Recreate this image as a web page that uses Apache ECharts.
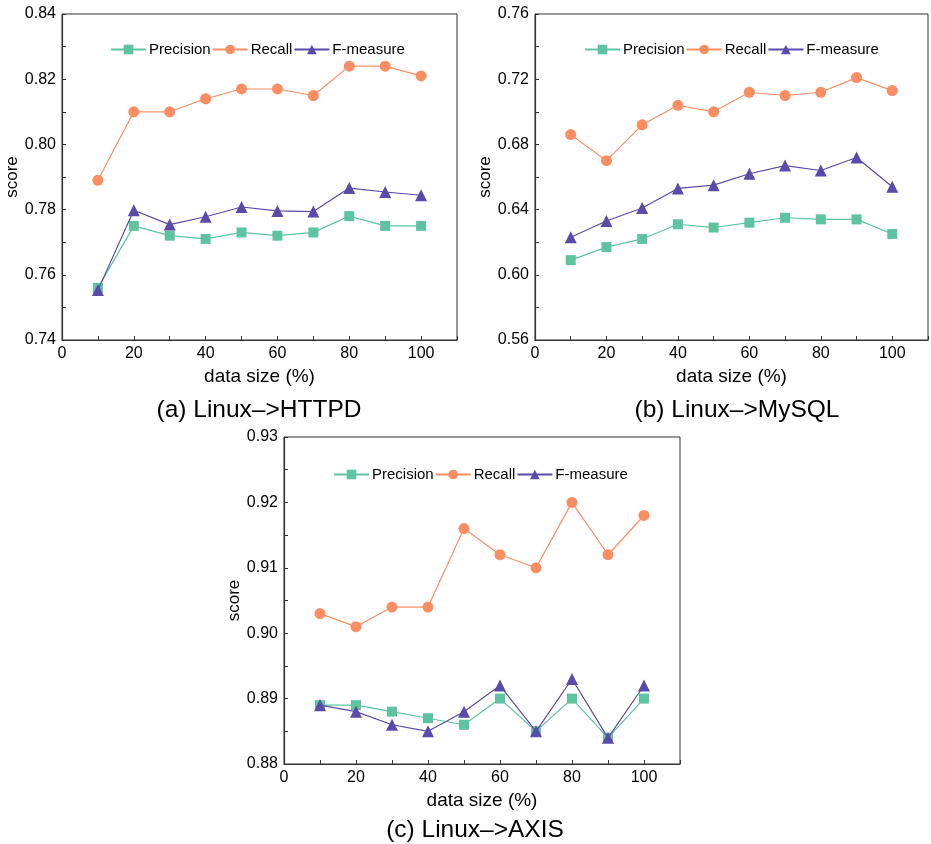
<!DOCTYPE html>
<html lang="en">
<head>
    <meta charset="utf-8">
    <title>score vs data size</title>
    <script src="https://cdn.jsdelivr.net/npm/echarts@6/dist/echarts.min.js"></script>
    <style type="text/css">
        html, body { margin: 0; padding: 0; background: #fff; }
        #container { width: 931px; height: 844px; }
    </style>
</head>
<body>
<div id="container"></div>
<script>
    var sizes = [10, 20, 30, 40, 50, 60, 70, 80, 90, 100];
    var seriesNames = ['Precision', 'Recall', 'F-measure'];
    var panelTitles = ['(a) Linux\u2013>HTTPD', '(b) Linux\u2013>MySQL', '(c) Linux\u2013>AXIS'];

    // (a) Linux->HTTPD
    var httpdPrecision = [0.756, 0.775, 0.772, 0.771, 0.773, 0.772, 0.773, 0.778, 0.775, 0.775];
    var httpdRecall    = [0.789, 0.810, 0.810, 0.814, 0.817, 0.817, 0.815, 0.824, 0.824, 0.821];
    var httpdF         = [0.7553, 0.7798, 0.7754, 0.7778, 0.7808, 0.7796, 0.7794, 0.7866, 0.7854, 0.7844];
    // (b) Linux->MySQL
    var mysqlPrecision = [0.609, 0.617, 0.622, 0.631, 0.629, 0.632, 0.635, 0.634, 0.634, 0.625];
    var mysqlRecall    = [0.686, 0.670, 0.692, 0.704, 0.700, 0.712, 0.710, 0.712, 0.721, 0.713];
    var mysqlF         = [0.623, 0.633, 0.641, 0.653, 0.655, 0.662, 0.667, 0.664, 0.672, 0.654];
    // (c) Linux->AXIS
    var axisPrecision  = [0.889, 0.889, 0.888, 0.887, 0.886, 0.890, 0.885, 0.890, 0.884, 0.890];
    var axisRecall     = [0.903, 0.901, 0.904, 0.904, 0.916, 0.912, 0.910, 0.920, 0.912, 0.918];
    var axisF          = [0.889, 0.888, 0.886, 0.885, 0.888, 0.892, 0.885, 0.893, 0.884, 0.892];

    // y ranges: [min, max, minor step, label step]
    var yRanges = [[0.74, 0.84, 0.01, 0.02], [0.56, 0.76, 0.02, 0.04], [0.88, 0.93, 0.005, 0.01]];

    var colors = ['#5ec39f', '#fa8d62', '#5a4aa9'];
    var symbols = ['rect', 'circle', 'triangle'];
    var symbolSizes = [10, 11, 12];
    var fontName = 'Liberation Sans';

    var grids = [
        {left: 62, top: 14, width: 395, height: 326},
        {left: 535, top: 14, width: 395, height: 326},
        {left: 284, top: 437, width: 396, height: 327}
    ];
    var legendPos = [{left: 105, top: 37}, {left: 579, top: 37}, {left: 328, top: 462}];
    var titlePos = [{left: 254, top: 393}, {left: 732, top: 393}, {left: 470, top: 813}];

    var panelData = [
        [httpdPrecision, httpdRecall, httpdF],
        [mysqlPrecision, mysqlRecall, mysqlF],
        [axisPrecision, axisRecall, axisF]
    ];

    var axisColor = '#333';
    var option = {
        backgroundColor: '#fff',
        animation: false,
        title: [],
        legend: [],
        grid: [],
        xAxis: [],
        yAxis: [],
        series: []
    };

    for (var p = 0; p < 3; p++) {
        option.grid.push({
            left: grids[p].left, top: grids[p].top, width: grids[p].width, height: grids[p].height,
            show: true, borderColor: axisColor, borderWidth: 1, backgroundColor: 'transparent'
        });
        option.title.push({
            text: panelTitles[p],
            left: titlePos[p].left, top: titlePos[p].top, textAlign: 'center',
            textStyle: {fontFamily: fontName, fontSize: 24.5, fontWeight: 'normal', color: '#000'}
        });
        option.legend.push({
            data: seriesNames,
            left: legendPos[p].left, top: legendPos[p].top,
            itemWidth: 35, itemHeight: 12, itemGap: 1,
            textStyle: {fontFamily: fontName, fontSize: 15, color: '#000', padding: [0, 0, 0, -2]}
        });
        option.xAxis.push({
            type: 'value', gridIndex: p, min: 0, max: 110, interval: 10,
            name: 'data size (%)', nameLocation: 'middle', nameGap: 27,
            nameTextStyle: {fontFamily: fontName, fontSize: 19, color: '#000'},
            axisLine: {show: true, lineStyle: {color: axisColor, width: 1.2}},
            axisTick: {show: true, inside: true, length: 4, lineStyle: {color: axisColor}},
            axisLabel: {
                fontFamily: fontName, fontSize: 16, color: '#000', margin: 6,
                formatter: function (v) { return (v % 20 === 0 && v <= 100) ? String(v) : ''; }
            },
            splitLine: {show: false}
        });
        (function (r) {
            option.yAxis.push({
                type: 'value', gridIndex: p, min: r[0], max: r[1], interval: r[2],
                name: 'score', nameLocation: 'middle', nameGap: 40,
                nameTextStyle: {fontFamily: fontName, fontSize: 17, color: '#000'},
                axisLine: {show: true, lineStyle: {color: axisColor, width: 1.2}},
                axisTick: {show: true, inside: true, length: 4, lineStyle: {color: axisColor}},
                axisLabel: {
                    fontFamily: fontName, fontSize: 16, color: '#000', margin: 6,
                    formatter: function (v) {
                        var k = Math.round((v - r[0]) / r[3] * 1000) / 1000;
                        return (Math.abs(k - Math.round(k)) < 1e-6) ? v.toFixed(2) : '';
                    }
                },
                splitLine: {show: false}
            });
        })(yRanges[p]);
        for (var s = 0; s < 3; s++) {
            var vals = panelData[p][s];
            var pts = [];
            for (var i = 0; i < sizes.length; i++) pts.push([sizes[i], vals[i]]);
            option.series.push({
                name: seriesNames[s], type: 'line', xAxisIndex: p, yAxisIndex: p,
                data: pts, symbol: symbols[s], symbolSize: symbolSizes[s],
                lineStyle: {color: colors[s], width: 1.2},
                itemStyle: {color: colors[s], borderWidth: 0},
                z: 2 + s
            });
        }
    }

    var myChart = echarts.init(document.getElementById('container'));
    myChart.setOption(option, true);
</script>
</body>
</html>
